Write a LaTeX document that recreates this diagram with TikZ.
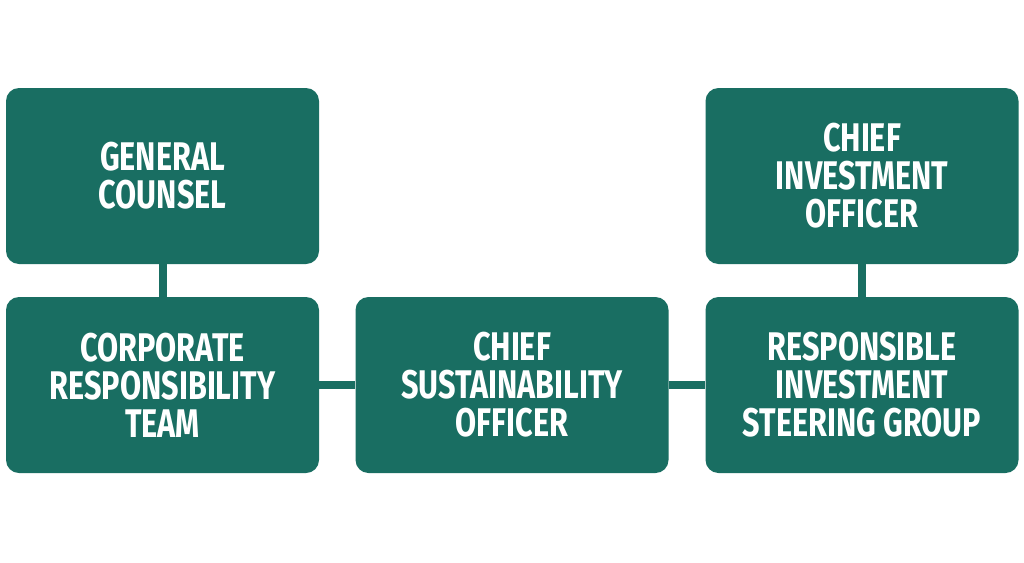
\documentclass[tikz,border=0pt]{standalone}
\usepackage{fontspec}
\newfontfamily\boxfont[FakeStretch=0.765]{Fira Sans}
\begin{document}
\begin{tikzpicture}[x=1pt,y=-1pt,
  box/.style={fill=teal0, draw=none, rounded corners=13pt, minimum width=313pt, minimum height=176pt, inner sep=0pt,
    text=white, align=center, font=\boxfont\bfseries\fontsize{40}{38}\selectfont},
  link/.style={draw=teal0, line width=8pt}]
\definecolor{teal0}{RGB}{25,110,98}
\useasboundingbox (0,0) rectangle (1024,562);
\fill[white] (0,0) rectangle (1024,562);
\node[box] (gc) at (162.5,176) {GENERAL\\COUNSEL};
\node[box] (crt) at (162.5,385) {CORPORATE\\RESPONSIBILITY\\TEAM};
\node[box] (cso) at (512,385) {CHIEF\\SUSTAINABILITY\\OFFICER};
\node[box] (cio) at (862,176) {CHIEF\\INVESTMENT\\OFFICER};
\node[box] (risg) at (862,385) {RESPONSIBLE\\INVESTMENT\\STEERING GROUP};
\draw[link] (gc.south) -- (crt.north);
\draw[link] (cio.south) -- (risg.north);
\draw[link] (crt.east) -- (cso.west);
\draw[link] (cso.east) -- (risg.west);
\end{tikzpicture}
\end{document}
